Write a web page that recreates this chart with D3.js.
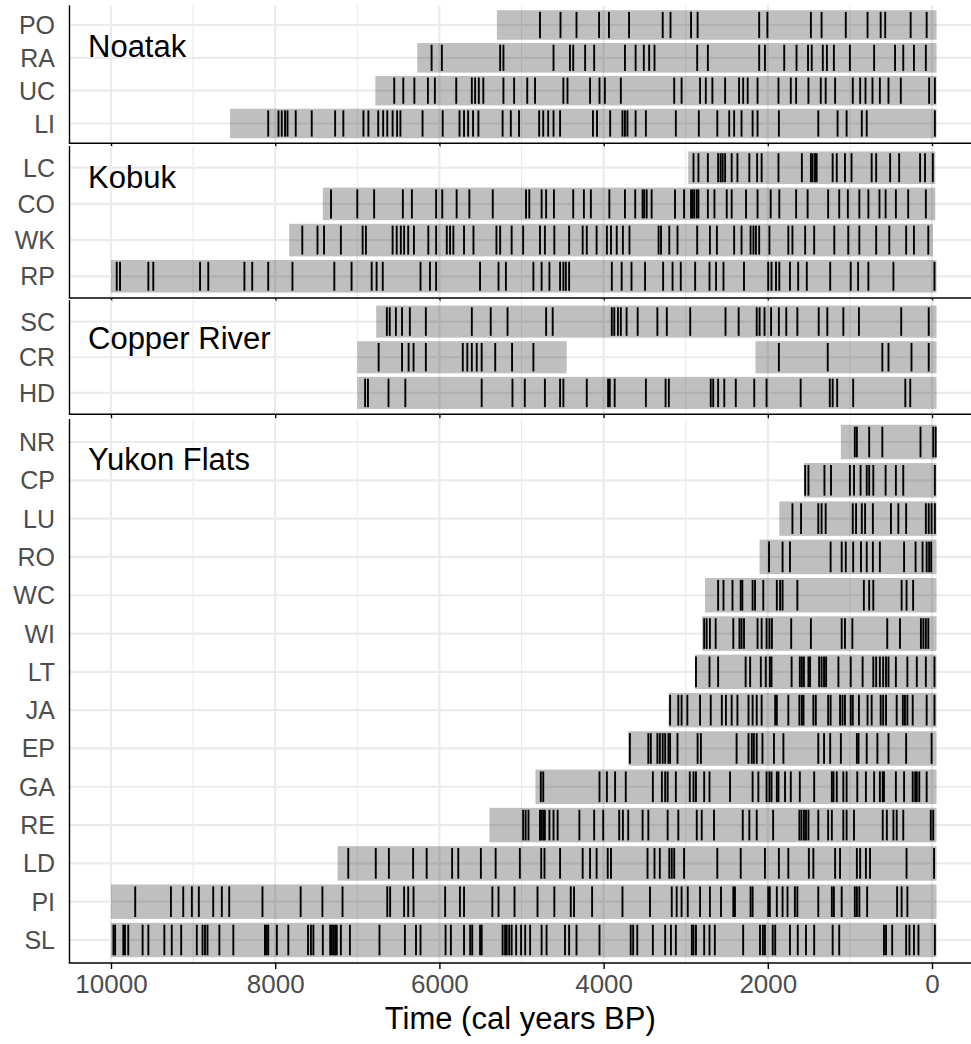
<!DOCTYPE html>
<html><head><meta charset="utf-8">
<script src="https://cdn.jsdelivr.net/npm/d3@7"></script>
<style>
body{margin:0;background:#fff}
svg{display:block}
text{font-family:"Liberation Sans", Arial, Helvetica, sans-serif}
</style>
</head><body>
<svg id="chart" width="971" height="1044"></svg>
<script>
// ---------------- DATA ----------------
const panelNames = ["Noatak", "Kobuk", "Copper River", "Yukon Flats"];
const noatakSites = ["PO", "RA", "UC", "LI"];
const kobukSites = ["LC", "CO", "WK", "RP"];
const copperSites = ["SC", "CR", "HD"];
const yukonSites = ["NR", "CP", "LU", "RO", "WC", "WI", "LT", "JA", "EP", "GA", "RE", "LD", "PI", "SL"];
const xTickValues = [10000, 8000, 6000, 4000, 2000, 0];
const xMinorValues = [9000, 7000, 5000, 3000, 1000];

// record extents (cal years BP): [site, oldest, youngest]
const recordSegments = [
  ["PO", 5300, -55], ["RA", 6270, -55], ["UC", 6780, -55], ["LI", 8550, -55],
  ["LC", 2970, -40], ["CO", 7420, -40], ["WK", 7830, -10], ["RP", 10000, -55],
  ["SC", 6770, -55], ["CR", 7000, 4450], ["CR", 2150, -55], ["HD", 7000, -55],
  ["NR", 1110, -55], ["CP", 1560, -55], ["LU", 1860, -55], ["RO", 2100, -55],
  ["WC", 2765, -55], ["WI", 2800, -55], ["LT", 2885, -55], ["JA", 3210, -55],
  ["EP", 3700, -55], ["GA", 4830, -55], ["RE", 5390, -55], ["LD", 7240, -55],
  ["PI", 10000, -55], ["SL", 10000, -55]
];

// fire events (cal years BP)
const PO = [4775, 4525, 4330, 4055, 3935, 3690, 3280, 3185, 2935, 2855, 2105, 2005, 1475, 1345, 1050, 785, 625, 570, 260, 65];
const RA = [6095, 5970, 5260, 5220, 4610, 4410, 4370, 4225, 4115, 3740, 3610, 3510, 3445, 3380, 2860, 2730, 2105, 2035, 1800, 1650, 1510, 1465, 1330, 1280, 1195, 1000, 705, 450, 350, 220, 75];
const UC = [6550, 6440, 6305, 6140, 6055, 5795, 5605, 5565, 5520, 5465, 5220, 5090, 4930, 4835, 4490, 4440, 4165, 4050, 3985, 3790, 3140, 3050, 2825, 2755, 2675, 2520, 2350, 2300, 2245, 2125, 1870, 1720, 1655, 1505, 1355, 1295, 1180, 965, 875, 810, 725, 635, 530, 380, 35, -35];
const LI = [8085, 7960, 7920, 7880, 7850, 7750, 7555, 7270, 7170, 6925, 6865, 6745, 6685, 6635, 6570, 6515, 6475, 6205, 5960, 5755, 5700, 5650, 5590, 5525, 5230, 5130, 5030, 4785, 4735, 4675, 4610, 4530, 4130, 4080, 3920, 3770, 3740, 3710, 3610, 3485, 3120, 2840, 2615, 2470, 2410, 2320, 2185, 2125, 1865, 1385, 1150, 1040, 855, 795, -35];
const LC = [2905, 2845, 2730, 2605, 2575, 2550, 2520, 2440, 2370, 2225, 2130, 2075, 1870, 1585, 1475, 1455, 1425, 1405, 1210, 1160, 1060, 980, 735, 680, 510, 400, 145, 85, -10];
const CO = [7320, 7000, 6795, 6445, 6335, 6040, 5965, 5790, 5635, 5350, 4945, 4905, 4755, 4700, 4605, 4370, 4240, 4155, 3930, 3740, 3615, 3525, 3505, 3475, 3415, 3130, 3020, 2935, 2915, 2895, 2865, 2845, 2730, 2650, 2500, 2440, 2265, 2125, 1965, 1860, 1655, 1515, 1265, 1130, 1025, 885, 775, 640, 565, 440, 290, 75];
const WK = [7670, 7485, 7405, 7200, 6935, 6895, 6570, 6520, 6470, 6430, 6380, 6310, 6135, 6040, 5910, 5870, 5830, 5700, 5585, 5305, 5260, 5120, 4980, 4775, 4715, 4600, 4420, 4255, 4205, 4085, 3960, 3910, 3840, 3765, 3685, 3330, 3300, 3200, 3100, 2860, 2705, 2620, 2410, 2320, 2210, 2175, 2145, 2105, 1980, 1750, 1700, 1545, 1435, 1190, 1020, 885, 680, 520, 315, 220, 45];
const RP = [9930, 9890, 9545, 9485, 8915, 8815, 8375, 8280, 8085, 7790, 7280, 7070, 6825, 6765, 6690, 6230, 6115, 6040, 5505, 5280, 5190, 4855, 4755, 4660, 4530, 4490, 4460, 4420, 3900, 3780, 3660, 3495, 3275, 3160, 3060, 2885, 2710, 2630, 2540, 2290, 1995, 1955, 1900, 1860, 1730, 1630, 1525, 1240, 990, 900, 775, 470, -30];
const SC = [6640, 6605, 6530, 6455, 6360, 6165, 5605, 5375, 5170, 4700, 4620, 3900, 3870, 3825, 3790, 3720, 3585, 3345, 3230, 2945, 2515, 2355, 2135, 2100, 2040, 1960, 1865, 1775, 1640, 1380, 1275, 1080, 890, 375, 40];
const CR = [6740, 6455, 6375, 6315, 6165, 5715, 5660, 5605, 5545, 5485, 5320, 5115, 4855, 1865, 1270, 605, 530, 250, 40];
const HD = [6905, 6870, 6620, 6415, 5485, 5110, 4960, 4715, 4530, 4490, 4205, 3945, 3925, 3865, 3485, 3245, 3205, 2695, 2665, 2605, 2530, 2390, 2165, 2015, 1600, 1245, 1210, 1155, 960, 325, 265];
const NR = [940, 915, 765, 605, 140, -15, -45];
const CP = [1545, 1505, 1310, 1230, 1000, 950, 870, 795, 765, 715, 565, 440, 350, -35];
const LU = [1700, 1595, 1385, 1345, 1295, 965, 925, 855, 815, 720, 500, 410, 315, 75, 40, 5, -35];
const RO = [1985, 1820, 1730, 1235, 1100, 1050, 960, 865, 795, 720, 635, 340, 200, 115, 65, 35, 10];
const WC = [2605, 2540, 2430, 2330, 2310, 2185, 2155, 2055, 1890, 1850, 1820, 1640, 830, 765, 715, 370, 310, 230];
const WI = [2775, 2745, 2705, 2635, 2420, 2345, 2320, 2290, 2125, 2075, 2015, 1980, 1950, 1715, 1475, 1100, 1060, 970, 545, 390, 135, 105, 75, 45];
const LT = [2875, 2710, 2605, 2270, 2215, 2085, 2025, 1975, 1955, 1710, 1610, 1585, 1560, 1505, 1485, 1375, 1345, 1315, 1290, 1140, 990, 845, 715, 680, 635, 595, 560, 530, 440, 300, 185, 75, -30];
const JA = [3190, 3090, 3050, 2980, 2825, 2695, 2560, 2510, 2440, 2370, 2235, 2185, 2135, 2075, 1910, 1890, 1750, 1615, 1585, 1565, 1445, 1415, 1265, 1235, 1120, 1090, 1060, 990, 965, 890, 785, 735, 625, 595, 560, 430, 355, 330, 300, 235, 65, -30];
const EP = [3680, 3455, 3425, 3345, 3315, 3280, 3250, 3210, 3190, 3100, 2855, 2815, 2380, 2235, 2195, 2170, 2135, 2065, 1925, 1810, 1385, 1315, 1240, 1110, 915, 895, 795, 665, 530, 315, 5];
const GA = [4765, 4735, 4050, 3960, 3860, 3730, 3400, 3290, 3250, 3220, 3120, 2950, 2905, 2875, 2775, 2710, 2460, 2185, 2115, 2015, 1980, 1955, 1890, 1870, 1790, 1720, 1610, 1435, 1220, 1200, 1160, 1080, 1040, 910, 805, 705, 635, 600, 585, 440, 340, 235, 205, 185, 155, 65];
const RE = [4980, 4950, 4915, 4775, 4755, 4735, 4715, 4660, 4610, 4560, 4295, 4115, 4005, 3810, 3765, 3700, 3525, 3455, 3220, 3090, 2865, 2805, 2655, 2305, 2225, 2135, 1935, 1615, 1590, 1560, 1535, 1505, 1385, 1265, 1220, 1080, 1040, 950, 600, 550, 470, 430, 350, 15, -15];
const LD = [7110, 6775, 6615, 6320, 6155, 5845, 5770, 5495, 5315, 5020, 4760, 4720, 4530, 4255, 4165, 4085, 3950, 3910, 3465, 3380, 3315, 3200, 3170, 3140, 3020, 2615, 2330, 2035, 1865, 1750, 1500, 1445, 1180, 1120, 915, 875, 805, 755, 310, -25];
const PI = [9705, 9270, 9120, 9015, 8930, 8755, 8650, 8560, 8155, 7690, 7425, 7180, 6635, 6600, 6430, 6380, 6315, 5930, 5750, 5700, 5355, 5280, 5085, 4805, 4600, 4400, 4360, 4140, 3770, 3435, 3170, 3110, 3050, 2975, 2825, 2705, 2570, 2420, 2400, 2210, 2185, 1995, 1975, 1890, 1820, 1760, 1670, 1640, 1385, 1220, 1195, 1100, 940, 915, 885, 790, 425, 370, 300];
const SL = [9970, 9950, 9850, 9830, 9790, 9615, 9545, 9350, 9260, 9145, 8955, 8885, 8855, 8825, 8680, 8510, 8125, 8105, 8085, 7980, 7840, 7600, 7565, 7535, 7420, 7330, 7310, 7290, 7270, 7250, 7200, 7090, 6730, 6420, 6285, 6230, 5925, 5860, 5700, 5625, 5600, 5505, 5485, 5230, 5200, 5180, 5150, 5120, 5065, 5005, 4955, 4895, 4755, 4695, 4470, 4420, 4330, 4050, 3670, 3640, 3590, 3400, 3250, 3180, 3120, 2925, 2905, 2875, 2775, 2710, 2645, 2300, 2095, 2060, 2035, 1940, 1910, 1730, 1635, 1535, 1435, 1210, 1130, 585, 560, 485, 315, 275, 220, 165, -35];

const fireData = {PO, RA, UC, LI, LC, CO, WK, RP, SC, CR, HD, NR, CP, LU, RO, WC, WI, LT, JA, EP, GA, RE, LD, PI, SL};
const panelSites = [noatakSites, kobukSites, copperSites, yukonSites];

// ---------------- LAYOUT ----------------
const panelExtent = [[5.3, 143.2], [146, 298], [300.2, 414.3], [419, 963]];
const titleBaseline = [56.5, 187.5, 348.5, 469.5];
const svg = d3.select("#chart");
const x = d3.scaleLinear().domain([10000, 0]).range([111, 932]);
const xLeft = 69.5, xRight = x(-500);
const gridColor = "#ebebeb";

panelNames.forEach((name, i) => {
  const [top, bottom] = panelExtent[i];
  const sites = panelSites[i];
  const y = d3.scalePoint().domain(sites).range([top, bottom]).padding(0.6);
  const step = y.step();
  const g = svg.append("g");

  // grid
  g.append("g").selectAll("line").data(xMinorValues).join("line")
    .attr("x1", d => x(d)).attr("x2", d => x(d)).attr("y1", top).attr("y2", bottom)
    .attr("stroke", gridColor).attr("stroke-width", 1.1);
  g.append("g").selectAll("line").data(xTickValues).join("line")
    .attr("x1", d => x(d)).attr("x2", d => x(d)).attr("y1", top).attr("y2", bottom)
    .attr("stroke", gridColor).attr("stroke-width", 2.2);
  g.append("g").selectAll("line").data(sites).join("line")
    .attr("x1", xLeft).attr("x2", xRight).attr("y1", d => y(d)).attr("y2", d => y(d))
    .attr("stroke", gridColor).attr("stroke-width", 2.2);

  // record bands
  g.append("g").selectAll("rect").data(recordSegments.filter(r => sites.includes(r[0]))).join("rect")
    .attr("x", d => x(d[1])).attr("width", d => x(d[2]) - x(d[1]))
    .attr("y", d => y(d[0]) - 0.45 * step).attr("height", 0.9 * step)
    .attr("fill", "#000").attr("fill-opacity", 0.25);

  // fire events
  const events = sites.flatMap(s => fireData[s].map(v => ({site: s, year: v})));
  g.append("g").selectAll("line").data(events).join("line")
    .attr("x1", d => x(d.year)).attr("x2", d => x(d.year))
    .attr("y1", d => y(d.site) - 0.4 * step).attr("y2", d => y(d.site) + 0.4 * step)
    .attr("stroke", "#000").attr("stroke-width", 1.9);

  // y labels
  g.append("g").selectAll("text").data(sites).join("text")
    .attr("x", 55).attr("y", d => y(d)).attr("dy", "0.36em")
    .attr("text-anchor", "end").attr("font-size", 25).attr("fill", "#4d4d4d")
    .text(d => d);

  // panel title
  g.append("text").attr("x", 88).attr("y", titleBaseline[i])
    .attr("font-size", 31).attr("fill", "#000").text(name);

  // x axis
  const isLast = i === panelNames.length - 1;
  const axis = d3.axisBottom(x).tickValues(xTickValues).tickSize(isLast ? 6 : 4)
    .tickPadding(6).tickFormat(isLast ? d3.format("d") : () => "");
  const ag = g.append("g").attr("transform", `translate(0,${bottom})`).call(axis);
  ag.select(".domain").remove();
  ag.selectAll(".tick line").attr("stroke", "#000").attr("stroke-width", 1.4);
  ag.selectAll(".tick text").attr("font-size", 26).attr("fill", "#4d4d4d")
    .attr("font-family", '"Liberation Sans", Arial, sans-serif');
  g.append("line").attr("x1", xLeft - 0.7).attr("x2", 971).attr("y1", bottom).attr("y2", bottom)
    .attr("stroke", "#000").attr("stroke-width", 1.4);
  g.append("line").attr("x1", xLeft).attr("x2", xLeft).attr("y1", top).attr("y2", bottom)
    .attr("stroke", "#000").attr("stroke-width", 1.4);
});

svg.append("text").attr("x", (xLeft + 971) / 2).attr("y", 1029)
  .attr("text-anchor", "middle").attr("font-size", 31).attr("fill", "#000")
  .text("Time (cal years BP)");
</script>
</body></html>
